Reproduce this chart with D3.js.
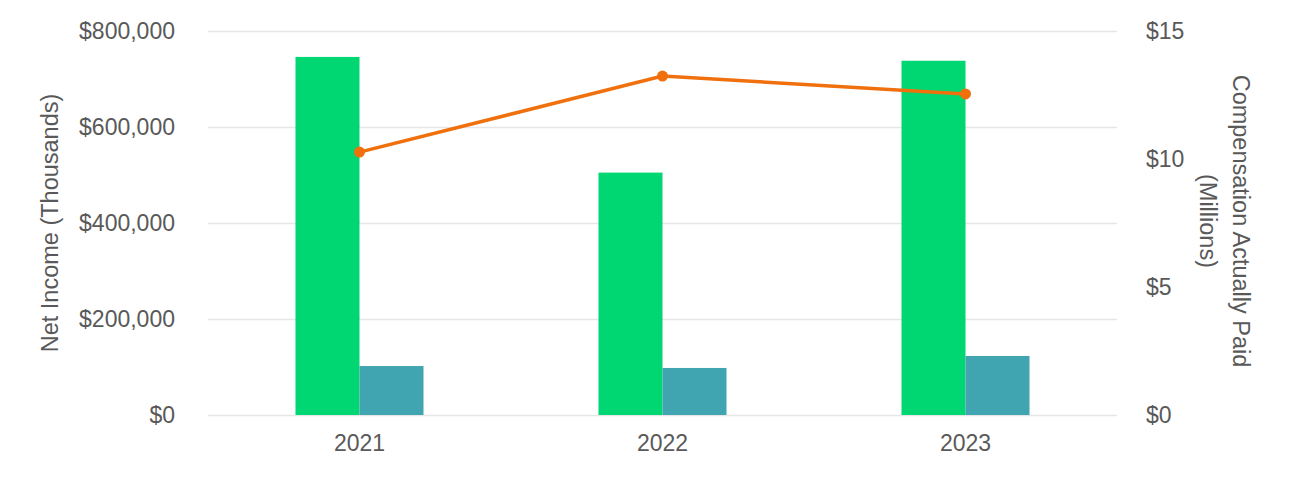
<!DOCTYPE html>
<html>
<head>
<meta charset="utf-8">
<script src="https://cdn.jsdelivr.net/npm/d3@7"></script>
<style>
  body { margin: 0; background: #fff; }
  svg text { font-family: "Liberation Sans", Arial, sans-serif; fill: #595959; }
  .grid line { stroke: #e6e6e6; stroke-width: 1.5; }
  .grid path { display: none; }
</style>
</head>
<body>
<script>
// values
var years = ["2021", "2022", "2023"];
var netIncome = [746000, 505000, 738000];   // green bars, left axis
var otherBars = [102000, 98000, 123000];    // teal bars, left axis
var capPaid = [10.27, 13.24, 12.54];        // orange line, right axis ($M)
var leftTicks = [0, 200000, 400000, 600000, 800000];
var rightTicks = [0, 5, 10, 15];

var W = 1294, H = 488;
var margin = {top: 31, right: 177, bottom: 73, left: 208},
    width = W - margin.left - margin.right,
    height = H - margin.top - margin.bottom;

var svg = d3.select("body").append("svg")
    .attr("width", W)
    .attr("height", H)
  .append("g")
    .attr("transform", "translate(" + margin.left + "," + margin.top + ")");

var x = d3.scaleBand().domain(years).range([0, width]);
var y = d3.scaleLinear().domain([0, 800000]).range([height, 0]);
var y2 = d3.scaleLinear().domain([0, 15]).range([height, 0]);
var barW = 64;

// gridlines
svg.append("g")
    .attr("class", "grid")
    .call(d3.axisLeft(y).tickValues(leftTicks).tickSize(-width).tickFormat(""));

// bars
svg.selectAll(".bar1")
    .data(netIncome)
  .enter().append("rect")
    .attr("x", function(d, i) { return x(years[i]) + x.bandwidth() / 2 - barW; })
    .attr("y", function(d) { return y(d); })
    .attr("width", barW)
    .attr("height", function(d) { return height - y(d); })
    .attr("fill", "#00d672");

svg.selectAll(".bar2")
    .data(otherBars)
  .enter().append("rect")
    .attr("x", function(d, i) { return x(years[i]) + x.bandwidth() / 2; })
    .attr("y", function(d) { return y(d); })
    .attr("width", barW)
    .attr("height", function(d) { return height - y(d); })
    .attr("fill", "#41a5b1");

// line
var line = d3.line()
    .x(function(d, i) { return x(years[i]) + x.bandwidth() / 2; })
    .y(function(d) { return y2(d); });

svg.append("path")
    .datum(capPaid)
    .attr("fill", "none")
    .attr("stroke", "#f0700e")
    .attr("stroke-width", 3.5)
    .attr("d", line);

svg.selectAll(".dot")
    .data(capPaid)
  .enter().append("circle")
    .attr("cx", function(d, i) { return x(years[i]) + x.bandwidth() / 2; })
    .attr("cy", function(d) { return y2(d); })
    .attr("r", 5.5)
    .attr("fill", "#f0700e");

// axes (text only)
var fmtLeft = function(d) { return "$" + d3.format(",")(d); };

var gl = svg.append("g")
    .call(d3.axisLeft(y).tickValues(leftTicks).tickSize(0).tickPadding(33).tickFormat(fmtLeft));
gl.select(".domain").remove();
gl.selectAll("text").style("font-size", "23px").style("fill", "#595959");

var gr = svg.append("g")
    .attr("transform", "translate(" + width + ",0)")
    .call(d3.axisRight(y2).tickValues(rightTicks).tickSize(0).tickPadding(29).tickFormat(function(d) { return "$" + d; }));
gr.select(".domain").remove();
gr.selectAll("text").style("font-size", "23px").style("fill", "#595959");

var gx = svg.append("g")
    .attr("transform", "translate(0," + height + ")")
    .call(d3.axisBottom(x).tickSize(0).tickPadding(20));
gx.select(".domain").remove();
gx.selectAll("text").style("font-size", "23px").style("fill", "#595959");

// axis titles
svg.append("text")
    .attr("transform", "translate(" + (50 - margin.left) + "," + (height / 2) + ") rotate(-90)")
    .attr("dy", "0.35em")
    .style("text-anchor", "middle")
    .style("font-size", "23.5px")
    .text("Net Income (Thousands)");

svg.append("text")
    .attr("transform", "translate(" + (1241 - margin.left) + "," + (height / 2 - 2) + ") rotate(90)")
    .attr("dy", "0.35em")
    .style("text-anchor", "middle")
    .style("font-size", "23.5px")
    .text("Compensation Actually Paid");

svg.append("text")
    .attr("transform", "translate(" + (1208 - margin.left) + "," + (height / 2 - 2) + ") rotate(90)")
    .attr("dy", "0.35em")
    .style("text-anchor", "middle")
    .style("font-size", "23.5px")
    .text("(Millions)");
</script>
</body>
</html>
